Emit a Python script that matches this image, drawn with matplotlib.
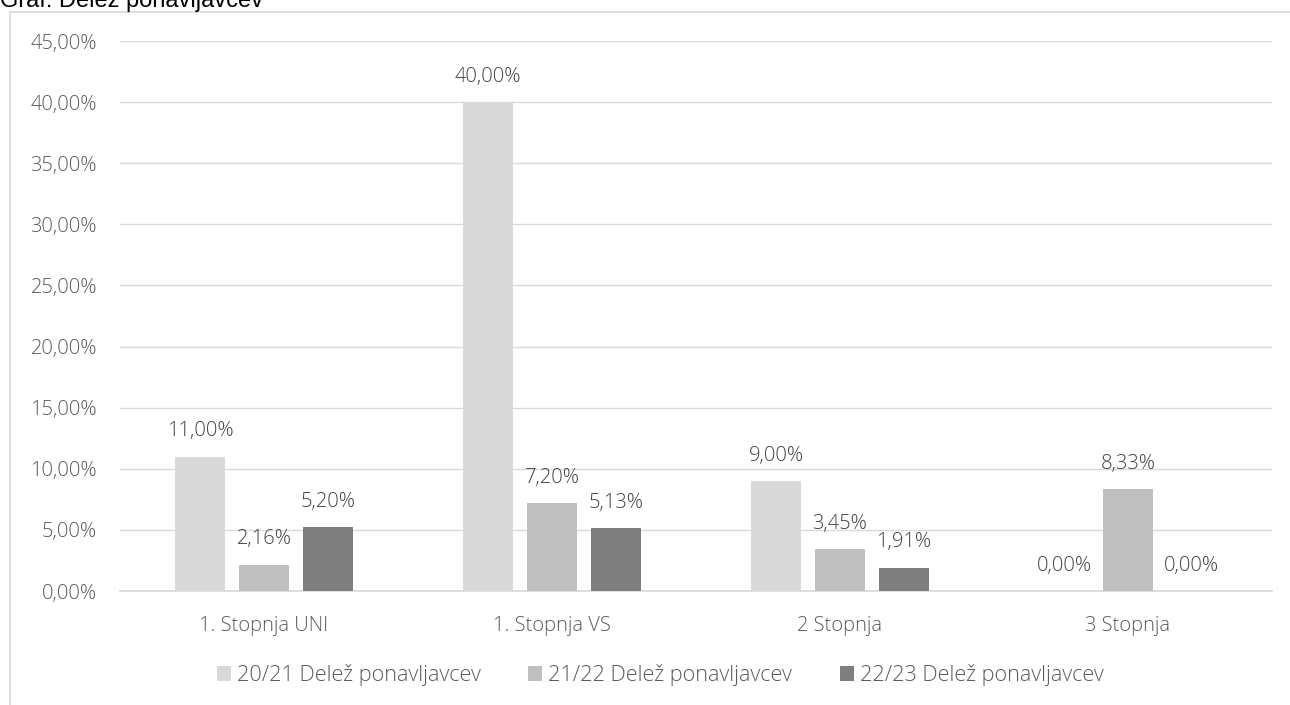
import numpy as np
import matplotlib.pyplot as plt
from matplotlib.patches import Rectangle

plt.rcParams['font.family'] = ['Open Sans', 'DejaVu Sans']
plt.rcParams['font.weight'] = 'light'

categories = ['1. Stopnja UNI', '1. Stopnja VS', '2 Stopnja', '3 Stopnja']
series = ['20/21 Delež ponavljavcev', '21/22 Delež ponavljavcev', '22/23 Delež ponavljavcev']
v2021 = [11.00, 40.00, 9.00, 0.00]
v2122 = [2.16, 7.20, 3.45, 8.33]
v2223 = [5.20, 5.13, 1.91, 0.00]
colors = ['#D9D9D9', '#BFBFBF', '#7F7F7F']

fig = plt.figure(figsize=(12.9, 7.05), dpi=100)
ax = fig.add_axes([0.093, 0.1617, 0.893, 0.7801])

# chart frame
fig.patches.append(Rectangle((10 / 1290, -0.01), 1.1, 1 - 12 / 705 + 0.01,
                             transform=fig.transFigure, fill=False,
                             edgecolor='#D9D9D9', linewidth=1.2))
fig.text(0.0, 1 - 7 / 705, 'Graf: Delež ponavljavcev', fontsize=17,
         family='Liberation Sans', fontweight='normal',
         color='#000000', va='baseline', ha='left')

x = np.arange(len(categories))
w = 0.175
step = 0.222
txt = '#404040'
for i, (vals, name) in enumerate(zip([v2021, v2122, v2223], series)):
    pos = x + (i - 1) * step
    bars = ax.bar(pos, vals, width=w, color=colors[i], label=name, zorder=3)
    for p, v in zip(pos, vals):
        ax.annotate(f'{v:.2f}%'.replace('.', ','), (p, v), xytext=(0, 11),
                    textcoords='offset points', ha='center', va='bottom',
                    fontsize=14.5, color=txt)

ax.set_xlim(-0.5, 3.5)
ax.set_ylim(0, 45)
ax.set_yticks(np.arange(0, 46, 5))
ax.set_yticklabels([f'{t:.2f}%'.replace('.', ',') for t in np.arange(0, 46, 5)])
ax.set_xticks(x)
ax.set_xticklabels(categories)
ax.grid(axis='y', color='#D9D9D9', linewidth=1, zorder=0)
for s in ['top', 'right', 'left']:
    ax.spines[s].set_visible(False)
ax.spines['bottom'].set_color('#D9D9D9')
ax.spines['bottom'].set_linewidth(1.2)
ax.tick_params(axis='both', length=0, labelsize=14.5, labelcolor='#595959')
ax.tick_params(axis='y', pad=16.5)
ax.tick_params(axis='x', pad=18)

leg = ax.legend(loc='center', bbox_to_anchor=(0.469, -0.1527), ncol=3,
                frameon=False, fontsize=15.6, handlelength=0.65, handleheight=0.65,
                columnspacing=2.2, handletextpad=0.28, borderaxespad=0)
for t in leg.get_texts():
    t.set_color('#595959')

fig.savefig('out.png', dpi=100)
